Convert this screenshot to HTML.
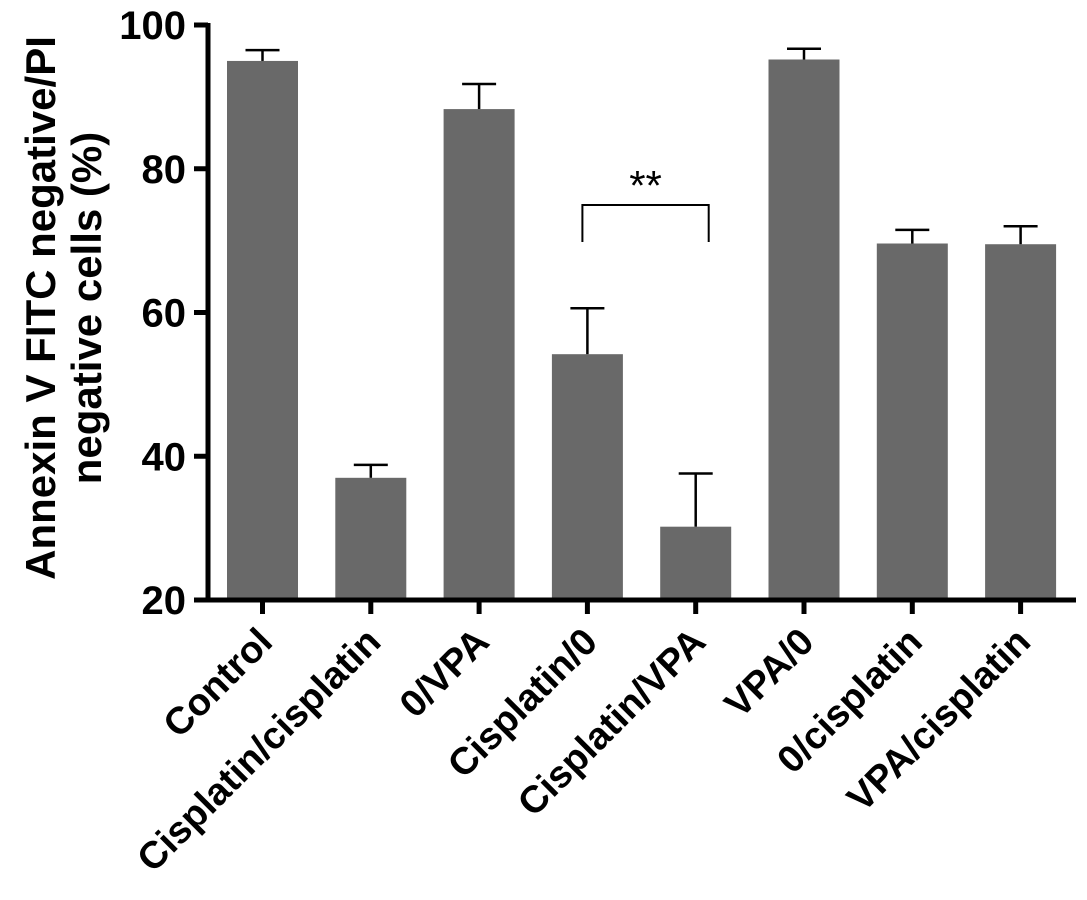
<!DOCTYPE html>
<html><head><meta charset="utf-8"><style>
html,body{margin:0;padding:0;background:#fff;}
svg{display:block;font-family:"Liberation Sans",Arial,sans-serif;}
</style></head><body>
<svg id="chart" width="1087" height="900" viewBox="0 0 1087 900" xmlns="http://www.w3.org/2000/svg"></svg>
<script>
const categories = ["Control","Cisplatin/cisplatin","0/VPA","Cisplatin/0","Cisplatin/VPA","VPA/0","0/cisplatin","VPA/cisplatin"];
const values = [95, 37, 88.3, 54.2, 30.2, 95.2, 69.6, 69.5];
const errors = [1.5, 1.8, 3.5, 6.4, 7.4, 1.5, 1.9, 2.5];
const yTicks = [20, 40, 60, 80, 100];

const svg = document.getElementById('chart');
const NS = 'http://www.w3.org/2000/svg';
const x0 = 208, y0 = 600, yTop = 25, yMin = 20, yMax = 100;
const pitch = 108.3, firstCenter = 262.5, barW = 71;
function y(v){ return y0 - (v - yMin) / (yMax - yMin) * (y0 - yTop); }
function xc(i){ return firstCenter + i * pitch; }
function mk(tag, attrs, parent){ const e = document.createElementNS(NS, tag); for (const k in attrs) e.setAttribute(k, attrs[k]); (parent||svg).appendChild(e); return e; }

values.forEach((v, i) => {
  const r = mk('rect', {x: xc(i) - barW/2, y: y(v), width: barW, height: y0 - y(v), fill: '#696969'});
  
  
  const g = mk('g', {stroke: '#000', 'stroke-width': 2.5});
  
  
  mk('line', {x1: xc(i), x2: xc(i), y1: y(v), y2: y(v + errors[i])}, g);
  mk('line', {x1: xc(i) - 17, x2: xc(i) + 17, y1: y(v + errors[i]), y2: y(v + errors[i])}, g);
});

const ya = mk('g', {});


mk('line', {x1: x0, x2: x0, y1: yTop - 2, y2: y0 + 2, stroke: '#000', 'stroke-width': 5}, ya);
yTicks.forEach(t => {
  mk('line', {x1: x0 - 14, x2: x0, y1: y(t), y2: y(t), stroke: '#000', 'stroke-width': 5}, ya);
  const tx = mk('text', {x: x0 - 22, y: y(t) + 14, 'text-anchor': 'end', 'font-size': 40, 'font-weight': 'bold'}, ya);
  tx.textContent = t;
  
  
});

const xa = mk('g', {});


mk('line', {x1: 194, x2: 1076, y1: y0, y2: y0, stroke: '#000', 'stroke-width': 5}, xa);
categories.forEach((c, i) => {
  mk('line', {x1: xc(i), x2: xc(i), y1: y0, y2: y0 + 14, stroke: '#000', 'stroke-width': 5}, xa);
  const tx = mk('text', {x: 0, y: 0, 'text-anchor': 'end', 'font-size': 38, 'font-weight': 'bold', transform: `translate(${xc(i) + 12},${y0 + 44}) rotate(-45)`}, xa);
  tx.textContent = c;
  
  
});

const yt = mk('text', {'text-anchor': 'middle', 'font-size': 42, 'font-weight': 'bold', transform: 'translate(0,308) rotate(-90)'});


const t1 = mk('tspan', {x: 0, y: 55}, yt); t1.textContent = 'Annexin V FITC negative/PI';
const t2 = mk('tspan', {x: 0, y: 101}, yt); t2.textContent = 'negative cells (%)';

const sg = mk('g', {});


mk('polyline', {points: `${xc(3)-5},242 ${xc(3)-5},205 ${xc(4)+13},205 ${xc(4)+13},242`, fill: 'none', stroke: '#000', 'stroke-width': 2}, sg);
const st = mk('text', {x: (xc(3) + xc(4)) / 2 + 4, y: 200, 'text-anchor': 'middle', 'font-size': 42}, sg);
st.textContent = '**';
</script>
</body></html>
